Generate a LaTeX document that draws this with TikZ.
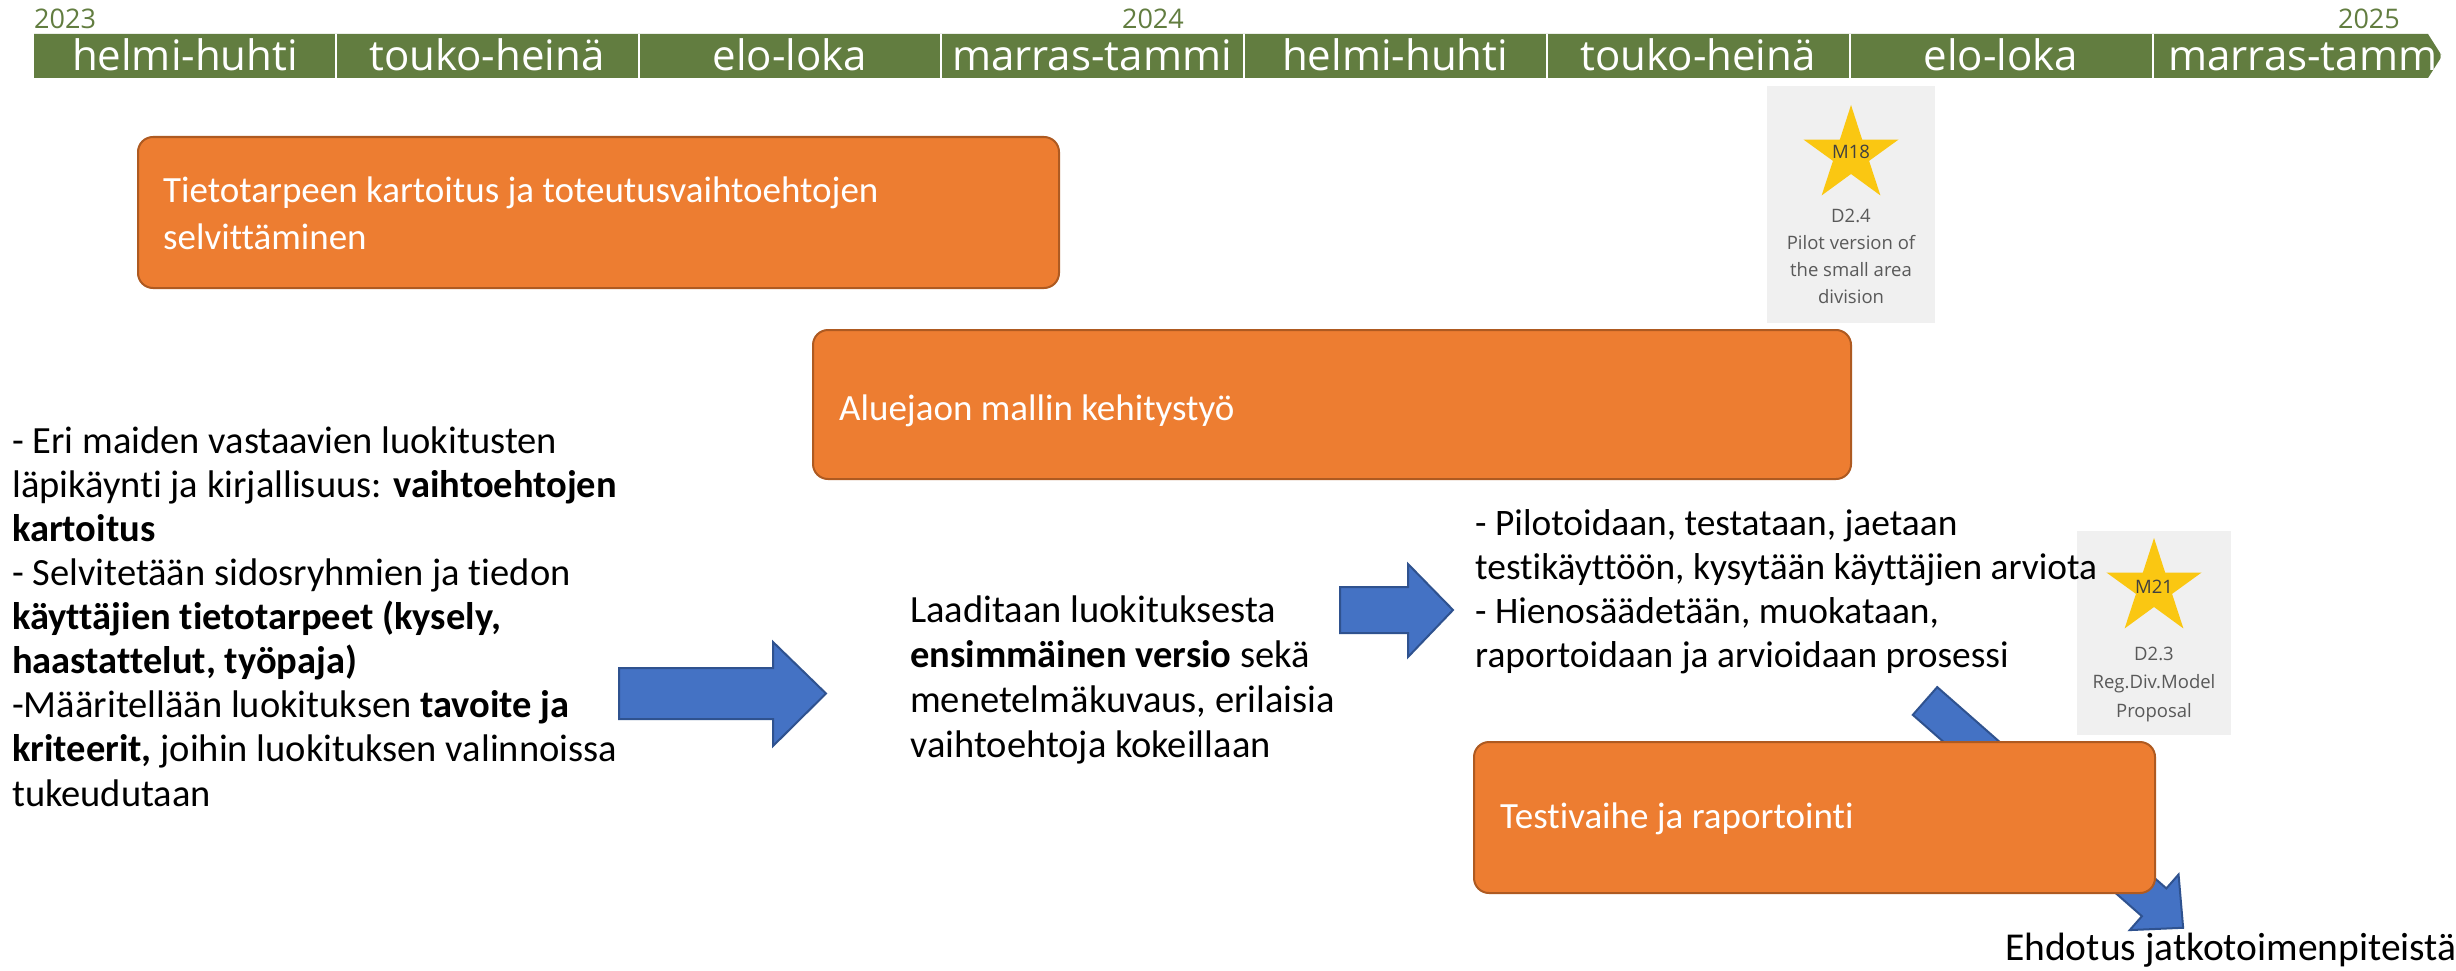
\documentclass[tikz,border=0pt]{standalone}
\usepackage{fontspec}
\setmainfont[Ligatures=NoCommon]{Carlito}
\newfontfamily\osans{Open Sans}
\definecolor{barg}{RGB}{98,125,64}
\definecolor{orng}{RGB}{237,125,49}
\definecolor{orngd}{RGB}{174,90,33}
\definecolor{blu}{RGB}{68,114,196}
\definecolor{blud}{RGB}{47,82,143}
\definecolor{msbg}{RGB}{240,240,240}
\definecolor{stary}{RGB}{250,199,18}
\definecolor{msdark}{RGB}{64,64,64}
\definecolor{msgray}{RGB}{89,89,89}
\tikzset{
  phase/.style={draw=orngd, line width=2pt, fill=orng, rounded corners=15pt},
  phasetxt/.style={anchor=base west, inner sep=0pt, text=white, font=\fontsize{37}{47}\selectfont},
  bluearrow/.style={fill=blu, draw=blud, line width=2pt, line join=miter},
  bodytxt/.style={anchor=base west, inner sep=0pt, font=\fontsize{38.5}{44}\selectfont},
  righttxt/.style={anchor=base west, inner sep=0pt, font=\fontsize{37.4}{44}\selectfont},
  seglabel/.style={anchor=base, inner sep=0pt, text=white, font=\osans\fontsize{42}{50}\selectfont},
  yearlabel/.style={anchor=base, inner sep=0pt, text=barg, font=\osans\fontsize{27}{32}\selectfont},
  msbox/.style={fill=msbg, draw=none},
  mstxt/.style={anchor=base, inner sep=0pt, text=msgray, font=\osans\fontsize{18.5}{27}\selectfont},
  startxt/.style={anchor=base, inner sep=0pt, text=msdark, font=\osans\fontsize{18.5}{22}\selectfont},
  starfill/.style={fill=stary, draw=none},
  divider/.style={draw=white, line width=1.5pt},
}
\begin{document}
\begin{tikzpicture}[x=1pt, y=-1pt]
\useasboundingbox (0,0) rectangle (2456,971);
\fill[white] (0,0) rectangle (2456,971);

% ---------- timeline ----------
\fill[barg] (34,34) -- (2428,34) -- (2442,56) -- (2428,78) -- (34,78) -- cycle;
\begin{scope}
  \clip (34,34) -- (2428,34) -- (2442,56) -- (2428,78) -- (34,78) -- cycle;
  \node[seglabel] (s1) at (185,71) {helmi-huhti};
  \node[seglabel] (s2) at (487,71) {touko-heinä};
  \node[seglabel] (s3) at (790,71) {elo-loka};
  \node[seglabel] (s4) at (1092,71) {marras-tammi};
  \node[seglabel] (s5) at (1395,71) {helmi-huhti};
  \node[seglabel] (s6) at (1698,71) {touko-heinä};
  \node[seglabel] (s7) at (2001,71) {elo-loka};
  \node[seglabel] (s8) at (2308,71) {marras-tammi};
\end{scope}
\foreach \x in {336,639,941,1244,1547,1850,2153}
  \draw[divider] (\x,34) -- (\x,78);
\node[yearlabel, anchor=base west] (y23) at (34,29) {2023};
\node[yearlabel, anchor=base east] (y24) at (1184,29) {2024};
\node[yearlabel, anchor=base east] (y25) at (2400,29) {2025};

% ---------- milestones ----------
\fill[msbox] (1767,86) rectangle (1935,323);
\fill[starfill] ([shift={(1851,155)}]-90:50)
  -- ([shift={(1851,155)}]-54:19) -- ([shift={(1851,155)}]-18:50)
  -- ([shift={(1851,155)}]18:19) -- ([shift={(1851,155)}]54:50)
  -- ([shift={(1851,155)}]90:19) -- ([shift={(1851,155)}]126:50)
  -- ([shift={(1851,155)}]162:19) -- ([shift={(1851,155)}]198:50)
  -- ([shift={(1851,155)}]234:19) -- cycle;
\node[startxt] (m18) at (1851,158) {M18};
\node[mstxt] (d24a) at (1851,222) {D2.4};
\node[mstxt] (d24b) at (1851,249) {Pilot version of};
\node[mstxt] (d24c) at (1851,276) {the small area};
\node[mstxt] (d24d) at (1851,303) {division};

\fill[msbox] (2077,531) rectangle (2231,735);
\fill[starfill] ([shift={(2154,588)}]-90:50)
  -- ([shift={(2154,588)}]-54:19) -- ([shift={(2154,588)}]-18:50)
  -- ([shift={(2154,588)}]18:19) -- ([shift={(2154,588)}]54:50)
  -- ([shift={(2154,588)}]90:19) -- ([shift={(2154,588)}]126:50)
  -- ([shift={(2154,588)}]162:19) -- ([shift={(2154,588)}]198:50)
  -- ([shift={(2154,588)}]234:19) -- cycle;
\node[startxt] (m21) at (2154,593) {M21};
\node[mstxt] (d23a) at (2154,660) {D2.3};
\node[mstxt] (d23b) at (2154,688) {Reg.Div.Model};
\node[mstxt] (d23c) at (2154,717) {Proposal};

% ---------- phase boxes ----------
\draw[phase] (138,137) rectangle (1059,288);
\node[phasetxt] (p1a) at (163,202) {Tietotarpeen kartoitus ja toteutusvaihtoehtojen};
\node[phasetxt] (p1b) at (163,249) {selvittäminen};

\draw[phase] (813,330) rectangle (1851,479);
\node[phasetxt] (p2) at (839,420) {Aluejaon mallin kehitystyö};

% diagonal arrow (behind box 3)
\begin{scope}[shift={(1925,701)}, rotate=-41.3]
  \draw[bluearrow] (0,-18.5) -- (305,-18.5) -- (305,-37) -- (343.6,0)
    -- (305,37) -- (305,18.5) -- (0,18.5) -- cycle;
\end{scope}

\draw[phase] (1474,742) rectangle (2155,893);
\node[phasetxt] (p3) at (1500,828) {Testivaihe ja raportointi};

% ---------- arrows ----------
\draw[bluearrow] (619,668) -- (773,668) -- (773,642) -- (826,693.5)
  -- (773,746) -- (773,719) -- (619,719) -- cycle;
\draw[bluearrow] (1340,587) -- (1408,587) -- (1408,564) -- (1453,610)
  -- (1408,657) -- (1408,633) -- (1340,633) -- cycle;

% ---------- texts ----------
\node[bodytxt] (l1) at (12,453) {- Eri maiden vastaavien luokitusten};
\node[bodytxt] (l2) at (12,497) {läpikäynti ja kirjallisuus: \textbf{vaihtoehtojen}};
\node[bodytxt] (l3) at (12,541) {\textbf{kartoitus}};
\node[bodytxt] (l4) at (12,585) {- Selvitetään sidosryhmien ja tiedon};
\node[bodytxt] (l5) at (12,629) {\textbf{käyttäjien tietotarpeet (kysely,}};
\node[bodytxt] (l6) at (12,673) {\textbf{haastattelut, työpaja)}};
\node[bodytxt] (l7) at (12,717) {-Määritellään luokituksen \textbf{tavoite ja}};
\node[bodytxt] (l8) at (12,761) {\textbf{kriteerit,} joihin luokituksen valinnoissa};
\node[bodytxt] (l9) at (12,806) {tukeudutaan};

\node[bodytxt] (c1) at (910,622) {Laaditaan luokituksesta};
\node[bodytxt] (c2) at (910,667) {\textbf{ensimmäinen versio} sekä};
\node[bodytxt] (c3) at (910,712) {menetelmäkuvaus, erilaisia};
\node[bodytxt] (c4) at (910,757) {vaihtoehtoja kokeillaan};

\node[righttxt] (r1) at (1475,535) {- Pilotoidaan, testataan, jaetaan};
\node[righttxt] (r2) at (1475,579) {testikäyttöön, kysytään käyttäjien arviota};
\node[righttxt] (r3) at (1475,623) {- Hienosäädetään, muokataan,};
\node[righttxt] (r4) at (1475,667) {raportoidaan ja arvioidaan prosessi};

\node[bodytxt, font=\fontsize{39.5}{44}\selectfont] (e1) at (2005,960) {Ehdotus jatkotoimenpiteistä};
\end{tikzpicture}
\end{document}
